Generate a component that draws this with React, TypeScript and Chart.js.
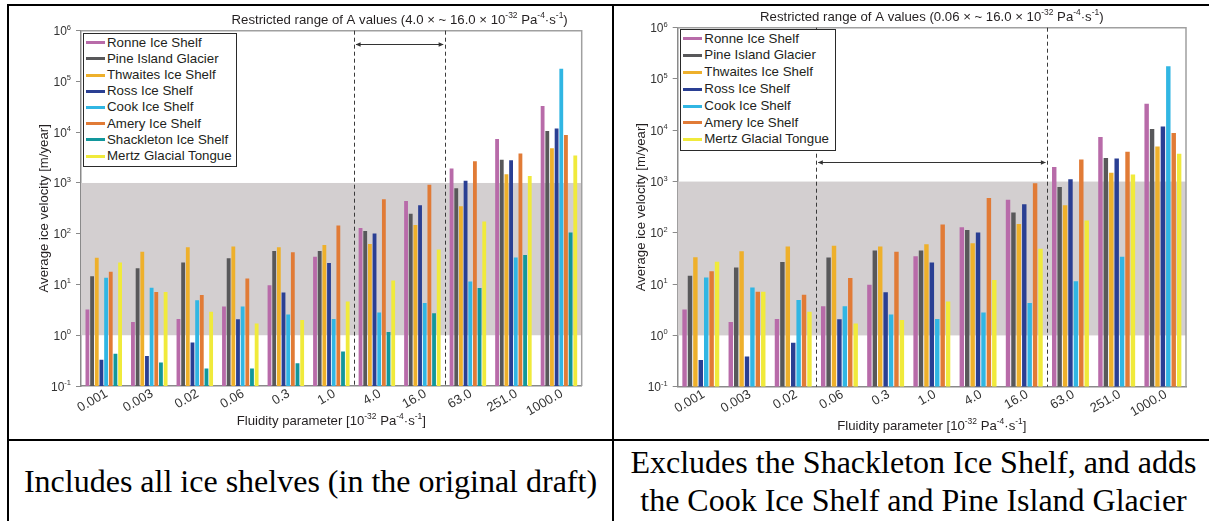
import React, { useEffect, useRef } from 'react';
import { Chart, registerables } from 'chart.js';

Chart.register(...registerables);

const FONT = '"Liberation Sans", Arial, sans-serif';
const SERIF = '"Liberation Serif", "Times New Roman", serif';

// ---------- data ----------
const categories = ['0.001', '0.003', '0.02', '0.06', '0.3', '1.0', '4.0', '16.0', '63.0', '251.0', '1000.0'];
const ronne = [3.2, 1.83, 2.1, 3.7, 9.7, 35, 129, 442, 1918, 7380, 33000];
const pineIsland = [14.6, 21, 27, 33, 45.5, 45.5, 113, 248, 785, 2880, 10600];
const thwaites = [33.6, 44, 54, 56, 54, 60, 62.5, 148, 346, 1480, 4830];
const ross = [0.33, 0.39, 0.72, 2.07, 6.95, 26.4, 101, 363, 1112, 2800, 11800];
const cook = [13.5, 8.6, 4.9, 3.7, 2.56, 2.1, 2.8, 4.3, 11.4, 34, 178000];
const amery = [17.8, 7.1, 6.2, 13.1, 43, 146, 476, 927, 2680, 3800, 8860];
const shackleton = [0.43, 0.29, 0.22, 0.22, 0.28, 0.48, 1.16, 2.7, 8.5, 38, 106];
const mertz = [27.2, 7.1, 2.9, 1.7, 2.0, 4.6, 12, 49, 175, 1374, 3470];

const yTickValues = [0.1, 1, 10, 100, 1000, 10000, 100000, 1000000];
const yTickExponents = ['-1', '0', '1', '2', '3', '4', '5', '6'];
const bandLow = 1;
const bandHigh = 1000;

const leftRangeText = '4.0 × ~ 16.0 × 10';
const rightRangeText = '0.06 × ~ 16.0 × 10';
const yTitle = 'Average ice velocity [m/year]';
const leftCaption = 'Includes all ice shelves (in the original draft)';
const rightCaption = ['Excludes the Shackleton Ice Shelf, and adds', 'the Cook Ice Shelf and Pine Island Glacier'];

type Series = { label: string; data: number[]; color: string };

const S_RONNE: Series = { label: 'Ronne Ice Shelf', data: ronne, color: '#b86ba9' };
const S_PIG: Series = { label: 'Pine Island Glacier', data: pineIsland, color: '#58585a' };
const S_THW: Series = { label: 'Thwaites Ice Shelf', data: thwaites, color: '#eeb02b' };
const S_ROSS: Series = { label: 'Ross Ice Shelf', data: ross, color: '#2a3f93' };
const S_COOK: Series = { label: 'Cook Ice Shelf', data: cook, color: '#31b6e3' };
const S_AMERY: Series = { label: 'Amery Ice Shelf', data: amery, color: '#e17b36' };
const S_SHACK: Series = { label: 'Shackleton Ice Shelf', data: shackleton, color: '#12979c' };
const S_MERTZ: Series = { label: 'Mertz Glacial Tongue', data: mertz, color: '#f0ea3b' };

const leftSeries = [S_RONNE, S_PIG, S_THW, S_ROSS, S_COOK, S_AMERY, S_SHACK, S_MERTZ];
const rightSeries = [S_RONNE, S_PIG, S_THW, S_ROSS, S_COOK, S_AMERY, S_MERTZ];

type Run = [string, boolean];

function drawRich(ctx: CanvasRenderingContext2D, runs: Run[], x: number, y: number, align: string, size: number, color: string) {
  const supSize = size * 0.64;
  let w = 0;
  const widths = runs.map(([t, sup]) => {
    ctx.font = `${sup ? supSize : size}px ${FONT}`;
    const m = ctx.measureText(t).width;
    w += m;
    return m;
  });
  let cx = align === 'center' ? x - w / 2 : align === 'right' ? x - w : x;
  ctx.fillStyle = color;
  ctx.textBaseline = 'alphabetic';
  ctx.textAlign = 'left';
  runs.forEach(([t, sup], i) => {
    ctx.font = `${sup ? supSize : size}px ${FONT}`;
    ctx.fillText(t, cx, sup ? y - size * 0.4 : y);
    cx += widths[i];
  });
}

const decorPlugin = {
  id: 'decor',
  beforeDatasetsDraw(chart: any) {
    const { ctx, chartArea: a, scales } = chart;
    const y = scales.y;
    const yTop = y.getPixelForValue(bandHigh);
    const yBot = y.getPixelForValue(bandLow);
    ctx.save();
    ctx.fillStyle = '#d3cfd0';
    ctx.fillRect(a.left, yTop, a.right - a.left, yBot - yTop);
    ctx.restore();
  },
  afterDatasetsDraw(chart: any, _args: any, opts: any) {
    const { ctx, chartArea: a, scales } = chart;
    const x = scales.x;
    const y = scales.y;
    ctx.save();
    // frame top/right
    ctx.strokeStyle = '#a0a0a0';
    ctx.lineWidth = 1.5;
    ctx.beginPath();
    ctx.moveTo(a.left, a.top);
    ctx.lineTo(a.right, a.top);
    ctx.lineTo(a.right, a.bottom);
    ctx.stroke();
    // dashed lines
    const xa = (x.getPixelForValue(opts.from) + x.getPixelForValue(opts.from + 1)) / 2;
    const xb = (x.getPixelForValue(opts.to) + x.getPixelForValue(opts.to + 1)) / 2;
    ctx.strokeStyle = '#3a3a3a';
    ctx.lineWidth = 1;
    ctx.setLineDash([4, 3]);
    [xa, xb].forEach((px) => {
      ctx.beginPath();
      ctx.moveTo(Math.round(px) + 0.5, a.top);
      ctx.lineTo(Math.round(px) + 0.5, a.bottom);
      ctx.stroke();
    });
    ctx.setLineDash([]);
    // arrow
    const ay = Math.round(y.getPixelForValue(opts.arrowValue)) + 0.5;
    ctx.strokeStyle = '#333';
    ctx.fillStyle = '#333';
    ctx.beginPath();
    ctx.moveTo(xa + 2, ay);
    ctx.lineTo(xb - 2, ay);
    ctx.stroke();
    const head = (tip: number, dir: number) => {
      ctx.beginPath();
      ctx.moveTo(tip, ay);
      ctx.lineTo(tip + dir * 5, ay - 2.2);
      ctx.lineTo(tip + dir * 5, ay + 2.2);
      ctx.closePath();
      ctx.fill();
    };
    head(xa + 1.5, 1);
    head(xb - 1.5, -1);

    // y tick labels with superscripts
    yTickValues.forEach((v, i) => {
      const py = y.getPixelForValue(v);
      ctx.font = `7.5px ${FONT}`;
      const ew = ctx.measureText(yTickExponents[i]).width;
      const right = a.left - 10;
      ctx.fillStyle = '#333';
      ctx.textAlign = 'right';
      ctx.textBaseline = 'alphabetic';
      ctx.fillText(yTickExponents[i], right, py - 1);
      ctx.font = `12px ${FONT}`;
      ctx.fillText('10', right - ew, py + 4.5);
    });

    // title over the restricted range
    const mid = (xa + xb) / 2;
    drawRich(ctx, [
      ['Restricted range of A values (' + opts.rangeText, false],
      ['-32', true],
      [' Pa', false],
      ['-4', true],
      ['·s', false],
      ['-1', true],
      [')', false],
    ], mid, opts.titleBaseline, 'center', 13.2, '#231f20');

    // x title
    drawRich(ctx, [
      ['Fluidity parameter [10', false],
      ['-32', true],
      [' Pa', false],
      ['-4', true],
      ['·s', false],
      ['-1', true],
      [']', false],
    ], (a.left + a.right) / 2, a.bottom + opts.xTitleOffset, 'center', 13.2, '#231f20');

    // y title
    ctx.save();
    ctx.translate(a.left - 36.5, (a.top + a.bottom) / 2);
    ctx.rotate(-Math.PI / 2);
    ctx.font = `13.2px ${FONT}`;
    ctx.fillStyle = '#231f20';
    ctx.textAlign = 'center';
    ctx.textBaseline = 'middle';
    ctx.fillText(yTitle, 0, 0);
    ctx.restore();

    ctx.restore();
  },
};

type Box = { left: number; top: number; width: number; height: number };

type PanelProps = {
  series: Series[];
  box: Box;
  yWidth: number;
  xHeight: number;
  padTop: number;
  padRight: number;
  from: number;
  to: number;
  arrowValue: number;
  rangeText: string;
  titleBaseline: number;
  xTitleOffset: number;
};

function Panel(p: PanelProps) {
  const ref = useRef<HTMLCanvasElement | null>(null);
  useEffect(() => {
    if (!ref.current) return;
    const chart = new Chart(ref.current, {
      type: 'bar',
      data: {
        labels: categories,
        datasets: p.series.map((s) => ({
          label: s.label,
          data: s.data,
          backgroundColor: s.color,
          borderWidth: 0,
          categoryPercentage: 0.82,
          barPercentage: 0.82,
        })),
      },
      options: {
        animation: false,
        responsive: false,
        devicePixelRatio: 1,
        layout: { padding: { top: p.padTop, right: p.padRight, left: 0, bottom: 0 } },
        plugins: {
          legend: { display: false },
          tooltip: { enabled: false },
          title: { display: false },
          decor: {
            from: p.from,
            to: p.to,
            arrowValue: p.arrowValue,
            rangeText: p.rangeText,
            titleBaseline: p.titleBaseline,
            xTitleOffset: p.xTitleOffset,
          },
        } as any,
        scales: {
          x: {
            type: 'category',
            grid: { display: false, drawTicks: false, tickLength: 0 },
            border: { display: true, color: '#8a8a8a', width: 1.5 },
            ticks: {
              minRotation: 30,
              maxRotation: 30,
              padding: 0,
              labelOffset: 3,
              color: '#333',
              font: { family: FONT, size: 13 },
            },
            afterFit: (s: any) => {
              s.height = p.xHeight;
            },
          },
          y: {
            type: 'logarithmic',
            min: 0.1,
            max: 1000000,
            afterBuildTicks: (s: any) => {
              s.ticks = yTickValues.map((v) => ({ value: v }));
            },
            grid: { drawOnChartArea: false, drawTicks: true, tickLength: 5, color: '#8a8a8a', lineWidth: 1 },
            border: { display: true, color: '#8a8a8a', width: 1.5 },
            ticks: { display: false },
            afterFit: (s: any) => {
              s.width = p.yWidth;
            },
          },
        },
      },
      plugins: [decorPlugin as any],
    });
    return () => chart.destroy();
  }, []);
  return (
    <canvas
      ref={ref}
      width={p.box.width}
      height={p.box.height}
      style={{ position: 'absolute', left: p.box.left, top: p.box.top, width: p.box.width, height: p.box.height }}
    />
  );
}

type LegendProps = {
  series: Series[];
  left: number;
  top: number;
  width: number;
  height: number;
  rowTop: number;
  rowH: number;
  swLeft: number;
  swW: number;
  textLeft: number;
};

function Legend(p: LegendProps) {
  return (
    <div
      style={{
        position: 'absolute',
        left: p.left,
        top: p.top,
        width: p.width,
        height: p.height,
        boxSizing: 'border-box',
        border: '1px solid #2a2a2a',
        background: '#fff',
        fontFamily: FONT,
        fontSize: 13.3,
        color: '#231f20',
      }}
    >
      {p.series.map((s, i) => (
        <div
          key={s.label}
          style={{ position: 'absolute', left: 0, top: p.rowTop + i * p.rowH, height: p.rowH, width: '100%' }}
        >
          <div
            style={{
              position: 'absolute',
              left: p.swLeft,
              top: p.rowH / 2 - 1.5,
              width: p.swW,
              height: 3,
              background: s.color,
            }}
          />
          <div style={{ position: 'absolute', left: p.textLeft, top: 0, lineHeight: `${p.rowH}px`, whiteSpace: 'nowrap' }}>
            {s.label}
          </div>
        </div>
      ))}
    </div>
  );
}

export default function App() {
  return (
    <div style={{ position: 'absolute', left: 0, top: 0, width: 1209, height: 521, overflow: 'hidden', background: '#fff' }}>
      {/* table lines */}
      <div style={{ position: 'absolute', left: 7, top: 4, width: 1202, height: 2, background: '#000' }} />
      <div style={{ position: 'absolute', left: 7, top: 4, width: 2, height: 517, background: '#000' }} />
      <div style={{ position: 'absolute', left: 612, top: 4, width: 2, height: 517, background: '#000' }} />
      <div style={{ position: 'absolute', left: 7, top: 439, width: 1202, height: 2, background: '#000' }} />

      <Panel
        series={leftSeries}
        box={{ left: 9, top: 6, width: 603, height: 433 }}
        yWidth={72}
        xHeight={53}
        padTop={24.7}
        padRight={30.3}
        from={5}
        to={7}
        arrowValue={550000}
        rangeText={leftRangeText}
        titleBaseline={17.5}
        xTitleOffset={38.5}
      />
      <Legend
        series={leftSeries}
        left={83}
        top={33}
        width={154}
        height={134}
        rowTop={0.6}
        rowH={16.2}
        swLeft={2}
        swW={19}
        textLeft={23}
      />

      <Panel
        series={rightSeries}
        box={{ left: 614, top: 6, width: 595, height: 433 }}
        yWidth={63.7}
        xHeight={52.3}
        padTop={21.7}
        padRight={23}
        from={2}
        to={7}
        arrowValue={2400}
        rangeText={rightRangeText}
        titleBaseline={14.5}
        xTitleOffset={42.8}
      />
      <Legend
        series={rightSeries}
        left={680}
        top={29.3}
        width={156}
        height={121.4}
        rowTop={0.3}
        rowH={16.8}
        swLeft={2.3}
        swW={19}
        textLeft={23.3}
      />

      <div
        style={{
          position: 'absolute',
          left: 9,
          top: 441,
          width: 603,
          height: 80,
          display: 'flex',
          alignItems: 'center',
          justifyContent: 'center',
          fontFamily: SERIF,
          fontSize: 32,
          color: '#000',
          whiteSpace: 'nowrap',
        }}
      >
        {leftCaption}
      </div>
      <div
        style={{
          position: 'absolute',
          left: 614,
          top: 441,
          width: 599,
          height: 80,
          fontFamily: SERIF,
          fontSize: 32,
          color: '#000',
          textAlign: 'center',
          whiteSpace: 'nowrap',
          lineHeight: '38px',
          paddingTop: 2,
          boxSizing: 'border-box',
        }}
      >
        <div>{rightCaption[0]}</div>
        <div>{rightCaption[1]}</div>
      </div>
    </div>
  );
}
